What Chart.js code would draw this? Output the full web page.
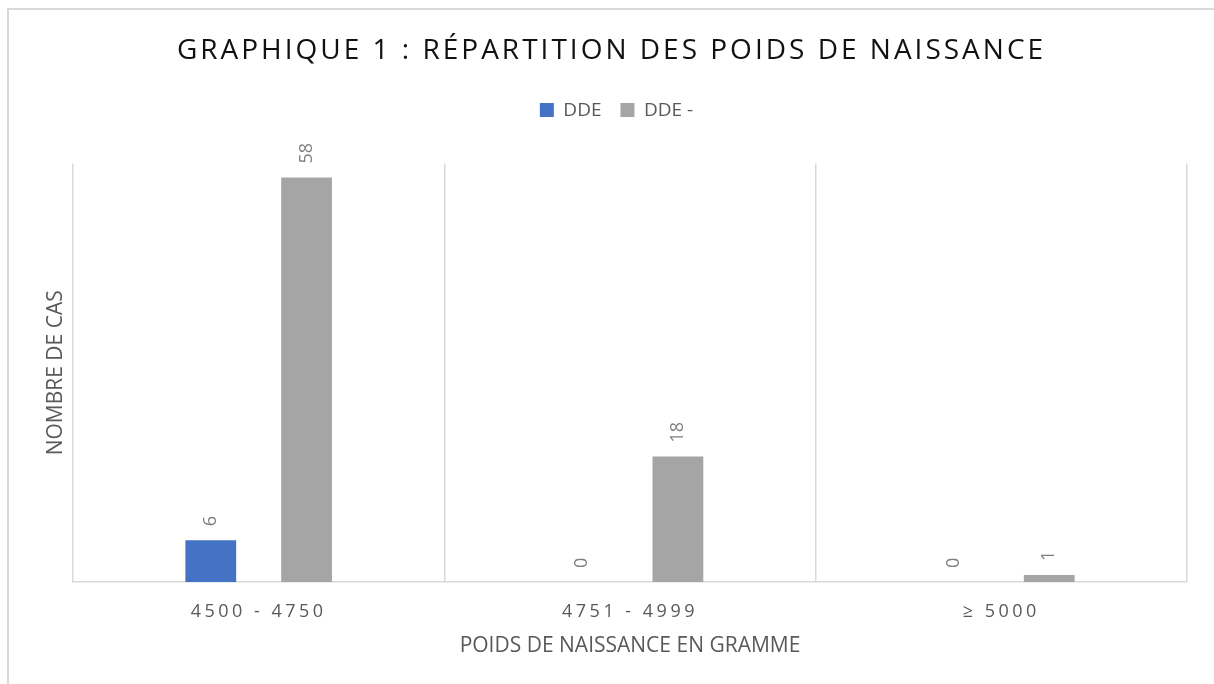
<!DOCTYPE html>
<html>
<head>
<meta charset="utf-8">
<script src="https://cdn.jsdelivr.net/npm/chart.js@4.4.0/dist/chart.umd.min.js"></script>
<style>
  html, body { margin: 0; padding: 0; background: #fff; overflow: hidden; }
  #frame { position: absolute; left: 7px; top: 8px; width: 1300px; height: 800px; border: 2px solid #d9d9d9; box-sizing: border-box; }
  #chart { position: absolute; left: 0; top: 0; }
</style>
</head>
<body>
<div id="frame"></div>
<canvas id="chart" width="1214" height="684"></canvas>
<script>
const categories = ['4500 - 4750', '4751 - 4999', '≥ 5000'];
const seriesNames = ['DDE', 'DDE -'];
const ddeValues = [6, 0, 0];
const ddeNegValues = [58, 18, 1];
const yMin = 0;
const yMax = 60;

const titleText = 'GRAPHIQUE 1 : RÉPARTITION DES POIDS DE NAISSANCE';
const yTitle = 'NOMBRE DE CAS';
const xTitle = 'POIDS DE NAISSANCE EN GRAMME';

const fontFamily = '"Open Sans", "DejaVu Sans", sans-serif';
const blue = '#4472c4';
const grey = '#a5a5a5';
const textGrey = '#595959';
const lineGrey = '#d9d9d9';

// category axis whose tick labels are letter-spaced, like the original
class SpacedCategoryScale extends Chart.CategoryScale {
  drawLabels(area) {
    const ctx = this.ctx;
    ctx.save();
    ctx.letterSpacing = '3.5px';
    super.drawLabels(area);
    ctx.restore();
  }
}
SpacedCategoryScale.id = 'spacedCategory';
SpacedCategoryScale.defaults = Chart.CategoryScale.defaults;
Chart.register(SpacedCategoryScale);

// empty box between legend and plot area
const spacer = {
  id: 'spacer',
  beforeInit(chart) {
    const box = {
      position: 'top', weight: 500, fullSize: true, options: {},
      left: 0, top: 0, right: 0, bottom: 0, width: 0, height: 0,
      update(maxWidth) { this.width = maxWidth; this.height = 34; },
      isHorizontal() { return true; },
      draw() {}
    };
    Chart.layouts.addBox(chart, box);
  }
};

// rotated value labels above each bar
const barLabels = {
  id: 'barLabels',
  afterDatasetsDraw(chart) {
    const ctx = chart.ctx;
    ctx.save();
    ctx.font = '18px ' + fontFamily;
    ctx.fillStyle = '#7f7f7f';
    ctx.textAlign = 'left';
    ctx.textBaseline = 'middle';
    chart.data.datasets.forEach((ds, i) => {
      chart.getDatasetMeta(i).data.forEach((bar, j) => {
        ctx.save();
        ctx.translate(bar.x, bar.y - 14);
        ctx.rotate(-Math.PI / 2);
        ctx.fillText(String(ds.data[j]), 0, 0);
        ctx.restore();
      });
    });
    ctx.restore();
  }
};

const chart = new Chart(document.getElementById('chart'), {
  type: 'bar',
  data: {
    labels: categories,
    datasets: [
      { label: seriesNames[0], data: ddeValues, backgroundColor: blue, borderWidth: 0 },
      { label: seriesNames[1], data: ddeNegValues, backgroundColor: grey, borderWidth: 0 }
    ]
  },
  options: {
    responsive: false,
    animation: false,
    layout: { padding: { left: 34, right: 27, top: 0, bottom: 0 } },
    datasets: { bar: { barPercentage: 0.53, categoryPercentage: 0.516 } },
    plugins: {
      title: {
        display: true,
        text: titleText,
        color: '#111111',
        font: { family: fontFamily, size: 28, weight: 'normal' },
        padding: { top: 34, bottom: 14 }
      },
      legend: {
        labels: {
          color: textGrey,
          font: { family: fontFamily, size: 19 },
          boxWidth: 14,
          boxHeight: 14,
          padding: 19
        }
      },
      tooltip: { enabled: false }
    },
    scales: {
      x: {
        type: 'spacedCategory',
        grid: { offset: true, color: lineGrey, lineWidth: 1.5, drawTicks: false },
        border: { color: lineGrey, width: 1.5 },
        ticks: { color: textGrey, font: { family: fontFamily, size: 18 }, padding: 19 },
        title: {
          display: true, text: xTitle, color: textGrey,
          font: { family: fontFamily, size: 21 },
          padding: { top: 0, bottom: 25 }
        },
        afterFit(scale) { scale.height = 102; }
      },
      y: {
        min: yMin,
        max: yMax,
        ticks: { display: false },
        grid: { display: false },
        border: { display: false },
        title: {
          display: true, text: yTitle, color: textGrey,
          font: { family: fontFamily, size: 21 },
          padding: { top: 9, bottom: 0 }
        },
        afterFit(scale) { scale.width = 39; }
      }
    }
  },
  plugins: [spacer, barLabels]
});

// letter-spaced chart title, legend nudged like the original
function patchDraw(box, setup) {
  const orig = box.draw.bind(box);
  box.draw = function () {
    const ctx = chart.ctx;
    ctx.save();
    setup(ctx);
    orig();
    ctx.restore();
  };
}
patchDraw(chart.titleBlock, ctx => { ctx.letterSpacing = '3px'; ctx.translate(1, 0); });
patchDraw(chart.legend, ctx => { ctx.translate(6, 0); });
chart.draw();
</script>
</body>
</html>
